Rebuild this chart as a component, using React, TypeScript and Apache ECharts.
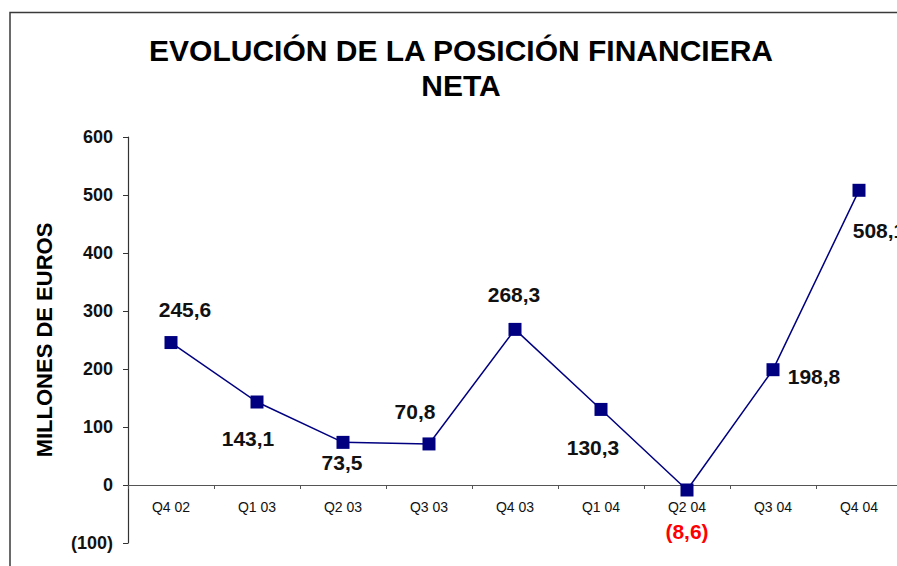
import React, { useEffect, useRef } from "react";
import * as echarts from "echarts";

const categories = ["Q4 02", "Q1 03", "Q2 03", "Q3 03", "Q4 03", "Q1 04", "Q2 04", "Q3 04", "Q4 04"];
const values = [245.6, 143.1, 73.5, 70.8, 268.3, 130.3, -8.6, 198.8, 508.1];
const labelOffsets: [number, number][] = [
  [14, -33], [-9, 36], [-1, 20], [-14, -32], [-1, -35], [-8, 38], [0, 42], [41, 7], [20, 40],
];
const titleLines = ["EVOLUCIÓN DE LA POSICIÓN FINANCIERA", "NETA"];
const yAxisName = "MILLONES DE EUROS";
const Y_MIN = -100;
const Y_MAX = 600;
const Y_STEP = 100;

const FONT = '"Liberation Sans", Arial, Helvetica, sans-serif';
const GRID_TOP = 137;
const GRID_HEIGHT = 406;

const fmtVal = (v: number) => {
  const s = Math.abs(v).toFixed(1).replace(".", ",");
  return v < 0 ? `(${s})` : s;
};

export default function App() {
  const ref = useRef<HTMLDivElement>(null);
  useEffect(() => {
    if (!ref.current) return;
    const chart = echarts.init(ref.current, null, { renderer: "svg" });
    // distance from grid bottom (Y_MIN) up to the zero line
    const zeroOffset = (GRID_HEIGHT * (0 - Y_MIN)) / (Y_MAX - Y_MIN);
    chart.setOption({
      animation: false,
      backgroundColor: "#ffffff",
      grid: {
        left: 128,
        top: GRID_TOP,
        width: 774,
        height: GRID_HEIGHT,
        containLabel: false,
        outerBoundsMode: "none",
      },
      xAxis: {
        type: "category",
        data: categories,
        boundaryGap: true,
        position: "bottom",
        offset: -zeroOffset,
        axisLine: { onZero: false, lineStyle: { color: "#555555", width: 1.2 } },
        axisTick: { show: true, length: 4, inside: false, lineStyle: { color: "#555555" } },
        axisLabel: { margin: 15, fontSize: 14, color: "#111111", fontFamily: FONT },
        splitLine: { show: false },
      },
      yAxis: {
        type: "value",
        min: Y_MIN,
        max: Y_MAX,
        interval: Y_STEP,
        axisLine: { show: true, lineStyle: { color: "#333333", width: 1.2 } },
        axisTick: { show: true, length: 5, lineStyle: { color: "#333333" } },
        axisLabel: {
          margin: 15,
          fontSize: 18,
          fontWeight: "bold",
          color: "#111111",
          fontFamily: FONT,
          formatter: (v: number) => (v < 0 ? `(${-v})` : `${v}`),
        },
        splitLine: { show: false },
      },
      series: [
        {
          type: "line",
          data: values.map((v, i) => ({
            value: v,
            label: {
              show: true,
              position: "inside",
              offset: labelOffsets[i],
              align: "center",
              verticalAlign: "middle",
              formatter: () => fmtVal(v),
              fontSize: 21,
              fontWeight: "bold",
              fontFamily: FONT,
              color: v < 0 ? "#ff0000" : "#111111",
            },
          })),
          symbol: "rect",
          symbolSize: 13,
          itemStyle: { color: "#000080" },
          lineStyle: { color: "#000080", width: 1.5 },
          clip: false,
        },
      ],
      graphic: [
        {
          type: "rect",
          shape: { x: 10, y: 12.5, width: 1000, height: 1000 },
          style: { fill: "none", stroke: "#3a3a3a", lineWidth: 1.5 },
          silent: true,
        },
        {
          type: "text",
          x: 461,
          y: 50,
          style: {
            text: titleLines[0],
            align: "center",
            verticalAlign: "middle",
            textAlign: "center",
            textVerticalAlign: "middle",
            fontSize: 30,
            fontWeight: "bold",
            fontFamily: FONT,
            fill: "#000000",
          },
        },
        {
          type: "text",
          x: 461,
          y: 85,
          style: {
            text: titleLines[1],
            align: "center",
            verticalAlign: "middle",
            textAlign: "center",
            textVerticalAlign: "middle",
            fontSize: 30,
            fontWeight: "bold",
            fontFamily: FONT,
            fill: "#000000",
          },
        },
        {
          type: "text",
          x: 44,
          y: 340,
          rotation: Math.PI / 2,
          style: {
            text: yAxisName,
            align: "center",
            verticalAlign: "middle",
            textAlign: "center",
            textVerticalAlign: "middle",
            fontSize: 22,
            fontWeight: "bold",
            fontFamily: FONT,
            fill: "#000000",
          },
        },
      ],
    });
    return () => chart.dispose();
  }, []);
  return (
    <div
      ref={ref}
      style={{ position: "fixed", left: 0, top: 0, width: 897, height: 566, background: "#fff" }}
    />
  );
}
